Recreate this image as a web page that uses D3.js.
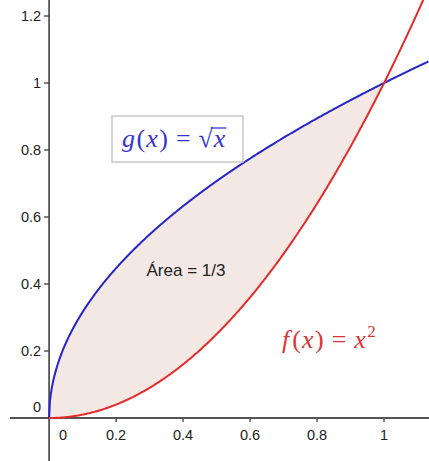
<!DOCTYPE html>
<html><head><meta charset="utf-8">
<script src="https://cdn.jsdelivr.net/npm/d3@7"></script>
<style>body{margin:0;background:#fff}svg{display:block}</style>
</head><body>
<svg id="c" width="429" height="461"></svg>
<script>
const xTicks = [0, 0.2, 0.4, 0.6, 0.8, 1];
const xTickLabels = ["0", "0.2", "0.4", "0.6", "0.8", "1"];
const yTicks = [0, 0.2, 0.4, 0.6, 0.8, 1, 1.2];
const yTickLabels = ["0", "0.2", "0.4", "0.6", "0.8", "1", "1.2"];
const xDomain = [-0.1466, 1.1343];
const yDomain = [-0.1284, 1.2478];
const sampleXs = d3.range(0, 1.1343, 0.0025);
const areaLabel = "Área = 1/3";

const svg = d3.select("#c");
const x = d3.scaleLinear().domain(xDomain).range([0, 429]);
const y = d3.scaleLinear().domain(yDomain).range([461, 0]);
const f = v => v * v;
const g = v => Math.sqrt(v);

const areaXs = sampleXs.filter(v => v <= 1).concat([1]);
svg.append("path")
  .attr("d", d3.area().x(d => x(d)).y0(d => y(f(d))).y1(d => y(g(d)))(areaXs))
  .attr("fill", "#f4e8e4");

const axCol = "#555";
svg.append("line").attr("x1", 10).attr("x2", 429).attr("y1", y(0)).attr("y2", y(0))
  .attr("stroke", axCol).attr("stroke-width", 1.8);
svg.append("line").attr("x1", x(0)).attr("x2", x(0)).attr("y1", 0).attr("y2", 461)
  .attr("stroke", axCol).attr("stroke-width", 1.8);

const font = "Liberation Sans, Arial, sans-serif";
xTicks.forEach((t, i) => {
  if (t !== 0) {
    svg.append("line").attr("x1", x(t)).attr("x2", x(t)).attr("y1", y(0)).attr("y2", y(0) + 4)
      .attr("stroke", axCol).attr("stroke-width", 1.5);
  }
  svg.append("text").attr("x", t === 0 ? x(t) + 14 : x(t)).attr("y", y(0) + 22)
    .attr("text-anchor", "middle").attr("font-family", font).attr("font-size", 14.5)
    .attr("fill", "#222").text(xTickLabels[i]);
});
yTicks.forEach((t, i) => {
  if (t !== 0) {
    svg.append("line").attr("x1", x(0) - 5).attr("x2", x(0)).attr("y1", y(t)).attr("y2", y(t))
      .attr("stroke", axCol).attr("stroke-width", 1.5);
  }
  svg.append("text").attr("x", x(0) - 8).attr("y", t === 0 ? y(t) - 6 : y(t) + 5)
    .attr("text-anchor", "end").attr("font-family", font).attr("font-size", 14.5)
    .attr("fill", "#222").text(yTickLabels[i]);
});

const line = fn => d3.line().x(d => x(d)).y(d => y(fn(d)));
svg.append("path").attr("d", line(g)(sampleXs)).attr("fill", "none")
  .attr("stroke", "#2424cc").attr("stroke-width", 2);
const fXs = sampleXs.filter(v => f(v) <= yDomain[1] + 0.05);
svg.append("path").attr("d", line(f)(fXs)).attr("fill", "none")
  .attr("stroke", "#e62a2a").attr("stroke-width", 2);

// math labels
const serif = "Liberation Serif, Times New Roman, serif";
function mathText(parts, x0, y0, size, color) {
  const t = svg.append("text").attr("x", x0).attr("y", y0)
    .attr("font-family", serif).attr("font-size", size).attr("fill", color);
  parts.forEach(p => {
    const s = t.append("tspan").text(p.t).attr("dx", p.dx || 0);
    if (p.i) s.attr("font-style", "italic");
    if (p.sup) s.attr("font-size", size * 0.66).attr("dy", -size * 0.42);
  });
  return t;
}

svg.append("rect").attr("x", 112).attr("y", 116).attr("width", 131).attr("height", 46)
  .attr("fill", "#fff").attr("stroke", "#c8c8c8").attr("stroke-width", 1.5);
const gCol = "#3434d6";
const gt = mathText([{t:"g", i:1},{t:"(", dx:1.5},{t:"x", i:1, dx:1},{t:")", dx:1.5},
  {t:"=", dx:8},{t:"√", dx:8},{t:"x", i:1, dx:1}], 122, 147, 26, gCol);
const n = gt.node().getNumberOfChars();
const rootBox = gt.node().getExtentOfChar(n - 2);
const xBox = gt.node().getExtentOfChar(n - 1);
svg.append("line").attr("x1", rootBox.x + rootBox.width - 2).attr("x2", xBox.x + xBox.width + 1)
  .attr("y1", rootBox.y + 4).attr("y2", rootBox.y + 4).attr("stroke", gCol).attr("stroke-width", 1.3);

mathText([{t:"f", i:1},{t:"(", dx:3},{t:"x", i:1, dx:1},{t:")", dx:1.5},{t:"=", dx:8},
  {t:"x", i:1, dx:8},{t:"2", sup:1, dx:1.5}], 282, 348, 26, "#e03434");

svg.append("text").attr("x", 186).attr("y", 276).attr("text-anchor", "middle")
  .attr("font-family", font).attr("font-size", 17).attr("fill", "#222").text(areaLabel);
</script>
</body></html>
